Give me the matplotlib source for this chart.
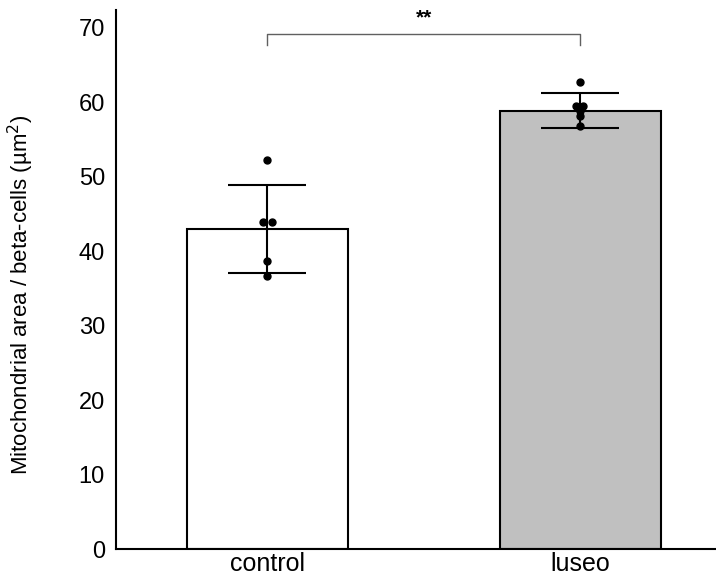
import matplotlib.pyplot as plt
import numpy as np

plt.rcParams['font.family'] = ['Liberation Sans', 'DejaVu Sans']

# data
groups = ["control", "luseo"]
means = [43.0, 58.9]
sds = [5.9, 2.3]
control_pts = [52.2, 43.9, 43.9, 38.7, 36.7]
luseo_pts = [62.7, 59.5, 59.5, 58.8, 58.1, 56.8]
significance = "**"

# small horizontal offsets so overlapping dots show side by side
control_jit = [-0.003, -0.013, 0.013, 0.0, 0.0]
luseo_jit = [0.0, -0.013, 0.008, 0.0, 0.0, 0.0]

fig = plt.figure(figsize=(7.16, 5.79), dpi=100)
ax = fig.add_axes([0.162, 0.0518, 0.838, 0.9309])

x = np.arange(len(groups))
ax.bar(x, means, width=0.515, color=["white", "#c0c0c0"],
       edgecolor="black", linewidth=1.5, zorder=1)
ax.errorbar(x, means, yerr=sds, fmt="none", ecolor="black",
            elinewidth=1.5, capsize=28, capthick=1.5, zorder=2)

for i, (pts, jit) in enumerate([(control_pts, control_jit), (luseo_pts, luseo_jit)]):
    ax.plot(x[i] + np.array(jit), pts, "o", color="black", markersize=5, zorder=3)

# significance bracket
y_br = 69.2
ax.plot([x[0], x[0], x[1], x[1]], [y_br - 1.5, y_br, y_br, y_br - 1.5],
        color="#606060", linewidth=1.0)
ax.text((x[0] + x[1]) / 2, y_br + 0.8, significance, ha="center", va="bottom",
        fontsize=15, fontweight="bold")

ax.set_xlim(-0.484, 1.433)
ax.set_ylim(0, 72.4)
ax.set_yticks(np.arange(0, 71, 10))
ax.set_xticks(x)
ax.set_xticklabels(groups)
ax.tick_params(axis="both", length=0)
ax.tick_params(axis="x", labelsize=18, pad=2)
ax.tick_params(axis="y", labelsize=17, pad=8)
ax.set_ylabel("Mitochondrial area / beta-cells (µm$^2$)", fontsize=16)
ax.yaxis.set_label_coords(-0.133, 0.471)
ax.spines["top"].set_visible(False)
ax.spines["right"].set_visible(False)
ax.spines["left"].set_linewidth(1.5)
ax.spines["bottom"].set_linewidth(1.5)

fig.savefig("out.png", dpi=100)
